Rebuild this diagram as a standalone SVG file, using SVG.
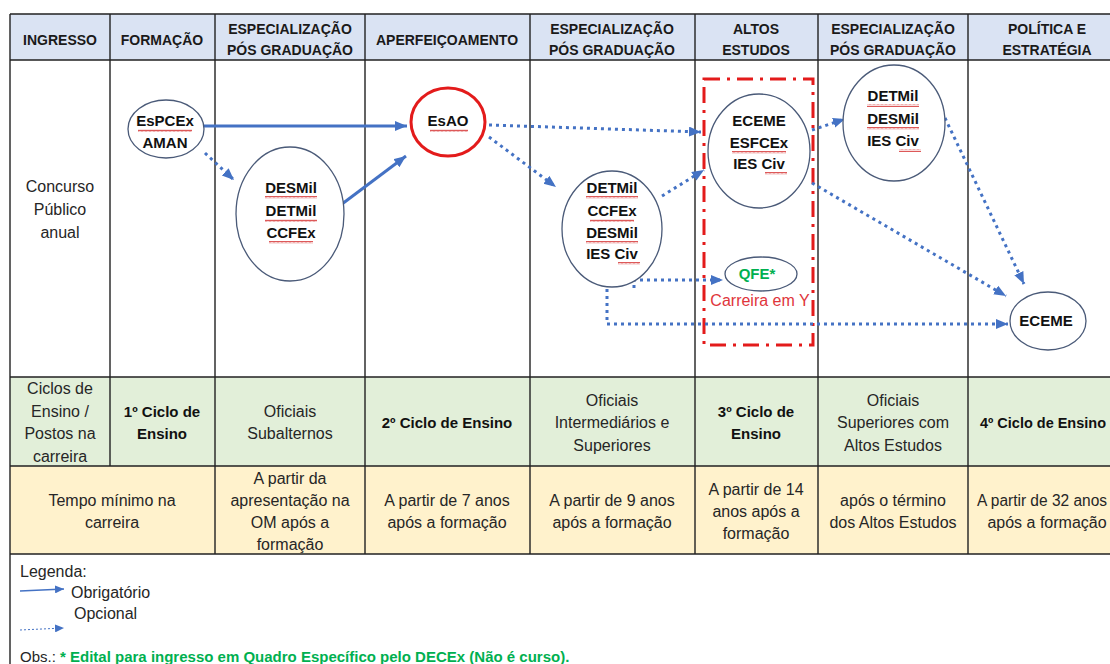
<svg xmlns="http://www.w3.org/2000/svg" width="1110" height="664" viewBox="0 0 1110 664">
<defs>
<style>
.hd{font-family:"Liberation Sans",Arial,sans-serif;font-size:14px;font-weight:bold;fill:#1a1a1a;text-anchor:middle}
.tx{font-family:"Liberation Sans",Arial,sans-serif;font-size:16px;fill:#262626;text-anchor:middle}
.bd{font-family:"Liberation Sans",Arial,sans-serif;font-size:15px;font-weight:bold;fill:#111;text-anchor:middle}
.lg{font-family:"Liberation Sans",Arial,sans-serif;font-size:16px;fill:#262626}
.nd{fill:#fff;stroke:#4a5a78;stroke-width:1.3}
.grid{stroke:#222;stroke-width:1.4;fill:none}
.solid{stroke:#4472c4;stroke-width:3;fill:none;marker-end:url(#ah)}
.dot{stroke:#4472c4;stroke-width:3;fill:none;stroke-dasharray:3 4;marker-end:url(#ah)}
.sq{fill:url(#squig)}
</style>
<marker id="ah" markerUnits="userSpaceOnUse" markerWidth="14" markerHeight="12" refX="12" refY="5" orient="auto">
<path d="M0,0 L12,5 L0,10 z" fill="#4472c4"/>
</marker>
<marker id="ahs" markerUnits="userSpaceOnUse" markerWidth="10" markerHeight="8" refX="9" refY="4" orient="auto">
<path d="M0,0 L9,4 L0,8 z" fill="#4472c4"/>
</marker>
<pattern id="squig" patternUnits="userSpaceOnUse" width="4" height="3">
<polyline points="0,2.5 1,0.8 2,2.5 3,0.8 4,2.5" fill="none" stroke="#d02020" stroke-width="0.8"/>
</pattern>
</defs>
<rect width="1110" height="664" fill="#fff"/>

<g id="table">
<rect x="10" y="14" width="1116" height="46" fill="#dae3f3"/>
<rect x="10" y="377" width="1116" height="89" fill="#e2efd9"/>
<rect x="10" y="466" width="1116" height="88" fill="#fff2cc"/>
<path class="grid" d="M10,14 H1126 M10,60 H1126 M10,377 H1126 M10,466 H1126 M10,554 H1126 M10,14 V664 M110,14 V466 M215,14 V554 M365,14 V554 M530,14 V554 M695,14 V554 M818,14 V554 M968,14 V554"/>
<text class="hd" x="60" y="45">INGRESSO</text>
<text class="hd" x="162" y="45">FORMAÇÃO</text>
<text class="hd" x="290" y="34">ESPECIALIZAÇÃO</text>
<text class="hd" x="290" y="55">PÓS GRADUAÇÃO</text>
<text class="hd" x="447" y="45">APERFEIÇOAMENTO</text>
<text class="hd" x="612" y="34">ESPECIALIZAÇÃO</text>
<text class="hd" x="612" y="55">PÓS GRADUAÇÃO</text>
<text class="hd" x="756" y="34">ALTOS</text>
<text class="hd" x="756" y="55">ESTUDOS</text>
<text class="hd" x="893" y="34">ESPECIALIZAÇÃO</text>
<text class="hd" x="893" y="55">PÓS GRADUAÇÃO</text>
<text class="hd" x="1047" y="34">POLÍTICA E</text>
<text class="hd" x="1047" y="55">ESTRATÉGIA</text>

<text class="tx" x="60" y="192">Concurso</text>
<text class="tx" x="60" y="215">Público</text>
<text class="tx" x="60" y="238">anual</text>

<text class="tx" x="60" y="394">Ciclos de</text>
<text class="tx" x="60" y="417">Ensino /</text>
<text class="tx" x="60" y="439">Postos na</text>
<text class="tx" x="60" y="462">carreira</text>
<text class="bd" x="162" y="417">1º Ciclo de</text>
<text class="bd" x="162" y="439">Ensino</text>
<text class="tx" x="290" y="417">Oficiais</text>
<text class="tx" x="290" y="439">Subalternos</text>
<text class="bd" x="447" y="428">2º Ciclo de Ensino</text>
<text class="tx" x="612" y="406">Oficiais</text>
<text class="tx" x="612" y="428">Intermediários e</text>
<text class="tx" x="612" y="451">Superiores</text>
<text class="bd" x="756" y="417">3º Ciclo de</text>
<text class="bd" x="756" y="439">Ensino</text>
<text class="tx" x="893" y="406">Oficiais</text>
<text class="tx" x="893" y="428">Superiores com</text>
<text class="tx" x="893" y="451">Altos Estudos</text>
<text class="bd" x="1043" y="428" textLength="126" lengthAdjust="spacingAndGlyphs">4º Ciclo de Ensino</text>

<text class="tx" x="112" y="506">Tempo mínimo na</text>
<text class="tx" x="112" y="528">carreira</text>
<text class="tx" x="290" y="484">A partir da</text>
<text class="tx" x="290" y="506">apresentação na</text>
<text class="tx" x="290" y="528">OM após a</text>
<text class="tx" x="290" y="550">formação</text>
<text class="tx" x="447" y="506">A partir de 7 anos</text>
<text class="tx" x="447" y="528">após a formação</text>
<text class="tx" x="612" y="506">A partir de 9 anos</text>
<text class="tx" x="612" y="528">após a formação</text>
<text class="tx" x="756" y="495">A partir de 14</text>
<text class="tx" x="756" y="517">anos após a</text>
<text class="tx" x="756" y="539">formação</text>
<text class="tx" x="893" y="506">após o término</text>
<text class="tx" x="893" y="528">dos Altos Estudos</text>
<text class="tx" x="1042" y="506" textLength="130" lengthAdjust="spacingAndGlyphs">A partir de 32 anos</text>
<text class="tx" x="1047" y="528">após a formação</text>
</g>

<g id="carreira-y">
<rect x="704" y="79" width="109" height="266" fill="none" stroke="#e31b1b" stroke-width="3" stroke-dasharray="16 7 3 7"/>
<text x="760" y="306" font-family="'Liberation Sans',Arial,sans-serif" font-size="16" fill="#e0353b" text-anchor="middle">Carreira em Y</text>
</g>

<g id="connectors">
<path class="solid" d="M204,126 L407,126"/>
<path class="solid" d="M342,204 L406,156"/>
<path class="dot" d="M205,153 L234,180"/>
<path class="dot" d="M489,125 L701,132"/>
<path class="dot" d="M489,137 L556,187"/>
<path class="dot" d="M662,196 L704,170"/>
<path class="dot" d="M634,288 L634,280 L723,280"/>
<path class="dot" d="M607,282 L607,324 L1008,324"/>
<path class="dot" d="M812,130 L845,119"/>
<path class="dot" d="M812,183 L1006,296"/>
<path class="dot" d="M945,118 L1024,284"/>
</g>

<g id="n-espcex">
<ellipse class="nd" cx="166" cy="129" rx="38" ry="29"/>
<text class="bd" x="165" y="126">EsPCEx</text>
<rect class="sq" x="138" y="129" width="54" height="3"/>
<text class="bd" x="165" y="148">AMAN</text>
</g>

<g id="n-desmil">
<ellipse class="nd" cx="290" cy="214" rx="54" ry="67"/>
<text class="bd" x="291" y="193">DESMil</text>
<rect class="sq" x="265" y="196" width="52" height="3"/>
<text class="bd" x="291" y="216">DETMil</text>
<rect class="sq" x="265" y="219" width="52" height="3"/>
<text class="bd" x="291" y="238">CCFEx</text>
<rect class="sq" x="269" y="241" width="44" height="3"/>
</g>

<g id="n-esao">
<ellipse cx="448" cy="122" rx="37" ry="34" fill="#fff" stroke="#e31b1b" stroke-width="3"/>
<text class="bd" x="448" y="126">EsAO</text>
<rect class="sq" x="430" y="129" width="38" height="3"/>
</g>

<g id="n-detmil5">
<ellipse class="nd" cx="612" cy="229" rx="50" ry="58"/>
<text class="bd" x="612" y="193">DETMil</text>
<rect class="sq" x="586" y="196" width="52" height="3"/>
<text class="bd" x="612" y="216">CCFEx</text>
<rect class="sq" x="590" y="219" width="44" height="3"/>
<text class="bd" x="612" y="238">DESMil</text>
<rect class="sq" x="586" y="241" width="52" height="3"/>
<text class="bd" x="612" y="259">IES Civ</text>
<rect class="sq" x="618" y="262" width="22" height="3"/>
</g>

<g id="n-eceme6">
<ellipse class="nd" cx="759" cy="151" rx="51" ry="57"/>
<text class="bd" x="759" y="126">ECEME</text>
<text class="bd" x="759" y="148">ESFCEx</text>
<rect class="sq" x="732" y="151" width="54" height="3"/>
<text class="bd" x="759" y="169">IES Civ</text>
<rect class="sq" x="765" y="172" width="22" height="3"/>
</g>

<g id="n-qfe">
<ellipse class="nd" cx="761" cy="274" rx="36" ry="17"/>
<text x="757" y="279" font-family="'Liberation Sans',Arial,sans-serif" font-size="15" font-weight="bold" fill="#00b050" text-anchor="middle">QFE*</text>
</g>

<g id="n-detmil7">
<ellipse class="nd" cx="894" cy="123" rx="51" ry="58"/>
<text class="bd" x="893" y="101">DETMil</text>
<rect class="sq" x="867" y="104" width="52" height="3"/>
<text class="bd" x="893" y="124">DESMil</text>
<rect class="sq" x="867" y="127" width="52" height="3"/>
<text class="bd" x="893" y="146">IES Civ</text>
<rect class="sq" x="899" y="149" width="22" height="3"/>
</g>

<g id="n-eceme8">
<ellipse class="nd" cx="1048" cy="321" rx="38" ry="29"/>
<text class="bd" x="1046" y="326">ECEME</text>
</g>

<g id="legend">
<text class="lg" x="20" y="577">Legenda:</text>
<path d="M20,591 L64,589" stroke="#4472c4" stroke-width="1.5" fill="none" marker-end="url(#ahs)"/>
<text class="lg" x="71" y="598">Obrigatório</text>
<text class="lg" x="74" y="619">Opcional</text>
<path d="M20,630 L64,628" stroke="#4472c4" stroke-width="1" stroke-dasharray="2 2" fill="none" marker-end="url(#ahs)"/>
<text x="20" y="662" font-family="'Liberation Sans',Arial,sans-serif" font-size="15" fill="#262626">Obs.: <tspan font-weight="bold" fill="#00b050">* Edital para ingresso em Quadro Específico pelo DECEx (Não é curso).</tspan></text>
</g>
</svg>
